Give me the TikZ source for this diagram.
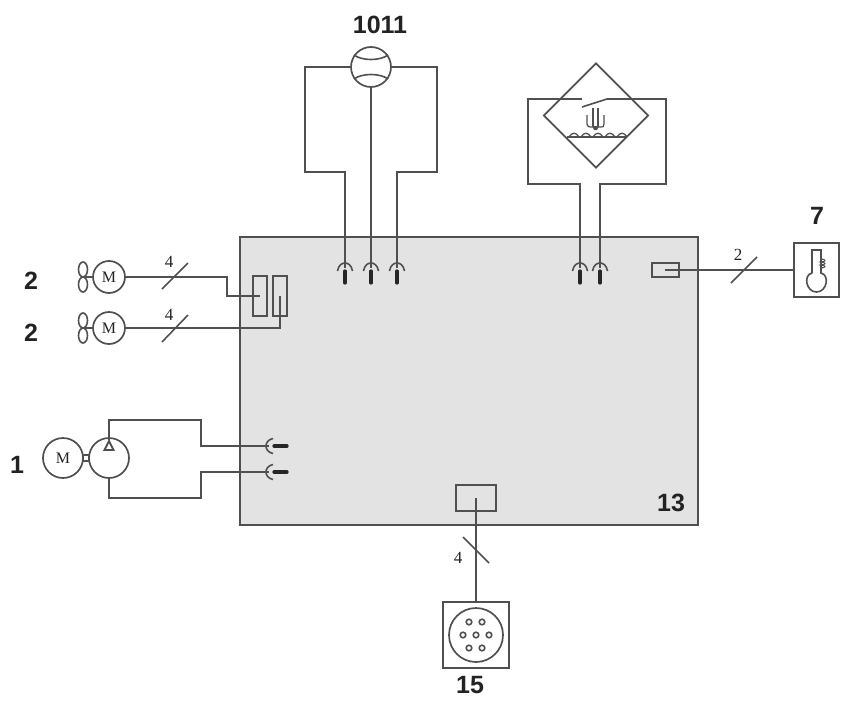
\documentclass[tikz,border=0pt]{standalone}
\usepackage{fontspec}
\usetikzlibrary{shapes.geometric}
\setmainfont{Liberation Serif}
\newfontfamily\labelfont{Liberation Sans}
\definecolor{linecol}{HTML}{505050}
\definecolor{numcol}{HTML}{222222}
\definecolor{boardcol}{HTML}{E3E3E3}
\tikzset{
  wire/.style={draw=linecol,line width=1.2pt,line join=miter},
  diag/.style={draw=linecol,line width=1.6pt},
  thin wire/.style={draw=linecol,line width=1.2pt},
  ring/.style={circle,draw=linecol,line width=1.7pt,inner sep=0pt,outer sep=0pt,minimum size=#1},
  bx/.style={rectangle,draw=linecol,line width=1.2pt,inner sep=0pt,outer sep=0pt,minimum width=#1},
  num/.style={font=\labelfont\bfseries\fontsize{25}{25}\selectfont,text=numcol,inner sep=0pt},
  small/.style={font=\fontsize{17}{17}\selectfont,text=numcol,inner sep=0pt},
  sockv/.pic={
    \draw[diag] (-7.5,3) .. controls (-6.5,-3) and (-3,-5) .. (0,-5) .. controls (3,-5) and (6.5,-3) .. (7.5,3);
    \draw[draw=black!85,line width=3.2pt,line cap=round] (0,3) -- (0,15);
  },
  sockh/.pic={
    \draw[diag] (4,-7.5) .. controls (-1,-6.5) and (-3,-3) .. (-3,0) .. controls (-3,3) and (-1,6.5) .. (4,7.5);
    \draw[draw=black!85,line width=3.2pt,line cap=round] (5,0) -- (18,0);
  }
}
\begin{document}
\begin{tikzpicture}[x=1pt,y=-1pt]
\useasboundingbox (0,0) rectangle (848,701);
% main board
\node[bx=458pt,minimum height=288pt,fill=boardcol] (board) at (469,381) {};
\node[num] (l13) at (671,503) {13};

% connection points on the board
\foreach \n/\x in {sa/345,sb/371,sc/397,sd/580,se/600} {
  \coordinate (\n) at (\x,268);
  \pic at (\n) {sockv};
}
\coordinate (sf) at (269,446); \pic at (sf) {sockh};
\coordinate (sg) at (269,472); \pic at (sg) {sockh};

% flow sensor 1011
\node[num] (l1011) at (380,25) {1011};
\node[ring=40pt] (flow) at (371,67) {};
\draw[diag] (354,55) .. controls (362,61) and (380,61) .. (388,55);
\draw[diag] (354,79) .. controls (362,73) and (380,73) .. (388,79);
\coordinate (fl) at (305,172); \coordinate (fr) at (437,172);
\draw[wire] (flow.west) -| (fl) -| (sa);
\draw[wire] (flow.south) -- (sb);
\draw[wire] (flow.east) -| (fr) -| (sc);

% level switch
\node[diamond,draw=linecol,line width=1.7pt,inner sep=0pt,minimum size=105pt,aspect=1] (level) at (596,115.5) {};
\coordinate (ltl) at (528,99); \coordinate (ltr) at (666,99);
\coordinate (lbl) at (528,184); \coordinate (lbr) at (666,184);
\coordinate (swa) at (582,99); \coordinate (swb) at (582,107); \coordinate (swc) at (607,99);
\draw[wire] (swa) -- (ltl) -- (lbl) -| (sd);
\draw[diag] (swb) -- (swc);
\draw[wire] (swc) -- (ltr) -- (lbr) -| (se);
\draw[diag,line width=1.2pt] (587,115) -- (587,124) .. controls (587,127) and (589,127) .. (591,127) -- (601,127) .. controls (603,127) and (604,127) .. (604,124) -- (604,115);
\draw[wire] (593,108) -- (593,126);
\draw[wire] (598,108) -- (598,126);
\fill[linecol] (592,126) -- (599,126) -- (597,130) -- (594,130) -- cycle;
\draw[wire] (567,137) -- (627,137);
\foreach \x in {569,581,593,605,617} {
  \draw[diag,line width=1.3pt] (\x,137) .. controls (\x+3,132) and (\x+7,132) .. (\x+10,137);
}

% temperature sensor 7
\node[num] (l7) at (817,216) {7};
\node[bx=45pt,minimum height=54pt] (tbox) at (816.5,270) {};
\node[bx=27pt,minimum height=14pt] (tcon) at (665.5,270) {};
\coordinate (tc) at (665,270);
\draw[wire] (tc) -- (tbox.west);
\coordinate (tsa) at (731,283); \coordinate (tsb) at (757,257);
\draw[diag] (tsa) -- (tsb);
\node[small] (n2) at (738,255) {2};
\draw[diag] (812,273) -- (812,250) -- (821,250) -- (821,273) .. controls (830,275) and (827,292) .. (816.5,292) .. controls (806,292) and (803,275) .. (812,273);
\draw[diag,line width=1.1pt] (821,259) .. controls (826,259) and (826,262) .. (821,262) .. controls (826,262) and (826,265) .. (821,265) .. controls (826,265) and (826,268) .. (821,268);

% fans
\node[num] (l2a) at (31,281) {2};
\node[num] (l2b) at (31,333) {2};
\foreach \nm/\y in {ma/277,mb/328} {
  \node[ring=32pt,font=\fontsize{16}{16}\selectfont,text=numcol] (\nm) at (109,\y) {M};
  \draw[diag] (83,\y-7.5) ellipse [x radius=4.5,y radius=7.5];
  \draw[diag] (83,\y+7.5) ellipse [x radius=4.5,y radius=7.5];
  \draw[wire] (83,\y) -- (\nm.west);
}
\node[bx=14pt,minimum height=40pt] (ra) at (260,296) {};
\node[bx=14pt,minimum height=40pt] (rb) at (280,296) {};
\coordinate (fa) at (227,277);
\draw[wire] (ma.east) -- (fa) |- (ra.center);
\draw[wire] (mb.east) -| (rb.center);
\coordinate (f1a) at (162,289); \coordinate (f1b) at (188,263);
\coordinate (f2a) at (162,342); \coordinate (f2b) at (188,315);
\draw[diag] (f1a) -- (f1b);
\draw[diag] (f2a) -- (f2b);
\node[small] (n4a) at (169,262) {4};
\node[small] (n4b) at (169,315) {4};

% pump 1
\node[num] (l1) at (17,465) {1};
\node[ring=40pt,font=\fontsize{16}{16}\selectfont,text=numcol] (pm) at (63,458) {M};
\node[ring=40pt] (pump) at (109,458) {};
\node[bx=6pt,minimum height=6pt,fill=white] (coup) at (86,458) {};
\coordinate (pta) at (109,420); \coordinate (ptb) at (201,420);
\coordinate (pba) at (109,498); \coordinate (pbb) at (201,498);
\coordinate (tri) at (109,440);
\draw[wire] (tri) -- (pta) -- (ptb) |- (sf);
\draw[wire] (pump.south) -- (pba) -- (pbb) |- (sg);
\draw[diag,line width=1.9pt] (109,441) -- (113.5,450) -- (104.5,450) -- cycle;

% diagnostic connector 15
\node[num] (l15) at (470,685) {15};
\node[bx=40pt,minimum height=26pt] (dcon) at (476,498) {};
\node[bx=66pt,minimum height=66pt] (dbox) at (476,635) {};
\node[ring=54pt] (plug) at (476,635) {};
\foreach \x/\y in {469/622,482/622,463/635,476/635,489/635,469/648,482/648} {
  \draw[diag] (\x,\y) circle [radius=2.8];
}
\draw[wire] (dcon.center) -- (dbox.north);
\coordinate (dsa) at (463,537); \coordinate (dsb) at (489,563);
\draw[diag] (dsa) -- (dsb);
\node[small] (n4c) at (458,558) {4};
\end{tikzpicture}
\end{document}
